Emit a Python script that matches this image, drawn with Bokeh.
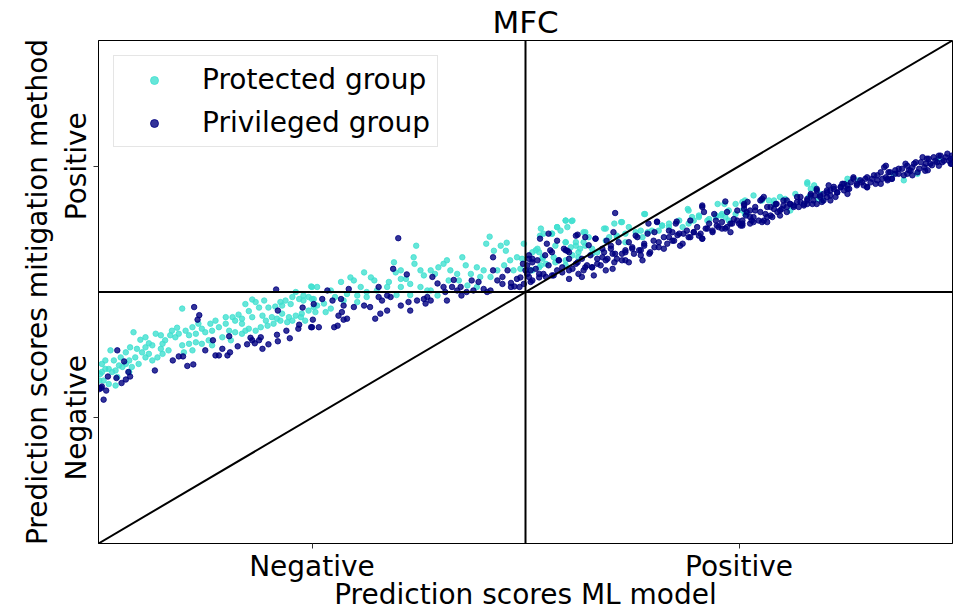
from bokeh.plotting import figure
from bokeh.models import Span, Slope, FixedTicker, Legend, LegendItem
from bokeh.embed import file_html
from bokeh.resources import INLINE

title_text = "MFC"
x_label = "Prediction scores ML model"
y_label = "Prediction scores mitigation method"
tick_values = [0.25, 0.75]
tick_labels = ["Negative", "Positive"]
threshold = 0.5
series_names = ["Protected group", "Privileged group"]

# Protected group (turquoise)
prot_x = [
    0.249, 0.231, 0.246, 0.240, 0.235, 0.227, 0.219, 0.213, 0.207, 0.199,
    0.188, 0.180, 0.176, 0.164, 0.180, 0.192, 0.196, 0.203, 0.209, 0.215,
    0.223, 0.231, 0.238, 0.246, 0.252, 0.242, 0.237, 0.227, 0.221, 0.213,
    0.205, 0.198, 0.190, 0.184, 0.176, 0.172, 0.168, 0.160, 0.153, 0.149,
    0.141, 0.133, 0.125, 0.121, 0.114, 0.106, 0.098, 0.092, 0.090, 0.084,
    0.078, 0.075, 0.067, 0.063, 0.055, 0.051, 0.045, 0.041, 0.037, 0.049,
    0.059, 0.059, 0.055, 0.043, 0.036, 0.032, 0.028, 0.024, 0.020, 0.016,
    0.012, 0.014, 0.008, 0.004, 0.002, 0.006, 0.012, 0.020, 0.001, 0.004,
    0.075, 0.082, 0.098, 0.106, 0.114, 0.121, 0.129, 0.110, 0.100, 0.069,
    0.063, 0.047, 0.039, 0.073, 0.160, 0.168, 0.145, 0.155, 0.133,
    0.172, 0.184, 0.194, 0.215, 0.225, 0.240, 0.252, 0.157, 0.168, 0.149,
    0.137, 0.131, 0.117, 0.110, 0.102, 0.094, 0.086, 0.073, 0.055, 0.032,
    0.026, 0.018, 0.008, 0.022, 0.036,
    0.458, 0.454, 0.471, 0.478, 0.498, 0.463, 0.477, 0.482, 0.490, 0.372,
    0.369, 0.370, 0.346, 0.348, 0.311, 0.319, 0.323, 0.295, 0.299, 0.284,
    0.272, 0.256, 0.250, 0.250, 0.256, 0.264, 0.272, 0.266, 0.254, 0.291,
    0.303, 0.314, 0.326, 0.340, 0.354, 0.354, 0.365, 0.377, 0.381, 0.389,
    0.394, 0.398, 0.404, 0.408, 0.412, 0.420, 0.426, 0.430, 0.436, 0.443,
    0.447, 0.451, 0.459, 0.467, 0.475, 0.486, 0.494, 0.496, 0.443, 0.432,
    0.389, 0.377, 0.365, 0.349, 0.338, 0.307, 0.397, 0.385, 0.410, 0.422,
    0.354, 0.360, 0.303, 0.314, 0.277, 0.287,
    0.517, 0.531, 0.537, 0.547, 0.554, 0.549, 0.570, 0.574, 0.594, 0.612,
    0.639, 0.621, 0.629, 0.637, 0.643, 0.547, 0.559, 0.568, 0.516, 0.512,
    0.520, 0.533, 0.508, 0.516, 0.524, 0.535, 0.547, 0.598, 0.607, 0.617,
    0.656, 0.660, 0.668, 0.684, 0.691, 0.697, 0.703, 0.715, 0.723, 0.730,
    0.734, 0.738, 0.746, 0.754, 0.691, 0.725, 0.578, 0.584, 0.562,
    0.518, 0.521, 0.547, 0.555, 0.541, 0.537, 0.531, 0.514, 0.508, 0.520,
    0.535, 0.547, 0.553, 0.559, 0.564, 0.570, 0.568, 0.562, 0.592, 0.604,
    0.613, 0.607, 0.617, 0.594, 0.578, 0.506, 0.518, 0.547, 0.555,
    0.640, 0.660, 0.668, 0.680, 0.690, 0.695, 0.703, 0.713, 0.723, 0.729,
    0.733, 0.738, 0.746, 0.754, 0.648, 0.635,
    0.757, 0.777, 0.785, 0.798, 0.804, 0.816, 0.830, 0.834, 0.840, 0.848,
    0.845, 0.877, 0.931, 0.984, 0.791,
    0.757, 0.759, 0.767, 0.830, 0.832, 0.838, 0.810, 0.791, 0.843,
    0.877, 0.890, 0.943, 0.959,
]
prot_y = [
    0.511, 0.500, 0.490, 0.483, 0.486, 0.490, 0.483, 0.480, 0.471, 0.469,
    0.469, 0.485, 0.462, 0.455, 0.450, 0.453, 0.443, 0.450, 0.447, 0.457,
    0.450, 0.453, 0.457, 0.463, 0.470, 0.443, 0.450, 0.443, 0.440, 0.443,
    0.437, 0.433, 0.430, 0.423, 0.427, 0.423, 0.417, 0.420, 0.423, 0.437,
    0.430, 0.423, 0.420, 0.427, 0.417, 0.414, 0.467, 0.429, 0.410, 0.414,
    0.404, 0.397, 0.417, 0.394, 0.390, 0.380, 0.387, 0.420, 0.390, 0.405,
    0.398, 0.377, 0.370, 0.370, 0.364, 0.357, 0.351, 0.354, 0.344, 0.341,
    0.347, 0.384, 0.364, 0.357, 0.337, 0.324, 0.317, 0.314, 0.324, 0.341,
    0.377, 0.384, 0.394, 0.397, 0.400, 0.397, 0.404, 0.384, 0.380, 0.370,
    0.364, 0.357, 0.351, 0.387, 0.443, 0.437, 0.410, 0.404, 0.394,
    0.476, 0.480, 0.483, 0.473, 0.476, 0.493, 0.486, 0.450, 0.447, 0.450,
    0.443, 0.437, 0.437, 0.430, 0.423, 0.417, 0.423, 0.414, 0.410, 0.380,
    0.370, 0.364, 0.347, 0.331, 0.341,
    0.610, 0.596, 0.592, 0.598, 0.596, 0.582, 0.582, 0.563, 0.569, 0.592,
    0.569, 0.556, 0.559, 0.539, 0.539, 0.529, 0.523, 0.529, 0.523, 0.520,
    0.503, 0.510, 0.510, 0.486, 0.473, 0.477, 0.467, 0.460, 0.460, 0.496,
    0.493, 0.500, 0.503, 0.520, 0.526, 0.510, 0.516, 0.543, 0.533, 0.543,
    0.536, 0.549, 0.556, 0.563, 0.543, 0.536, 0.569, 0.553, 0.536, 0.549,
    0.530, 0.543, 0.530, 0.543, 0.553, 0.543, 0.546, 0.566, 0.510, 0.513,
    0.503, 0.510, 0.494, 0.494, 0.510, 0.510, 0.493, 0.503, 0.523, 0.523,
    0.543, 0.526, 0.480, 0.490, 0.490, 0.483,
    0.612, 0.616, 0.629, 0.642, 0.641, 0.629, 0.619, 0.609, 0.626, 0.639,
    0.655, 0.629, 0.619, 0.609, 0.619, 0.599, 0.592, 0.599, 0.579, 0.583,
    0.569, 0.569, 0.543, 0.549, 0.556, 0.559, 0.563, 0.609, 0.612, 0.616,
    0.622, 0.632, 0.629, 0.629, 0.636, 0.642, 0.649, 0.645, 0.652, 0.655,
    0.649, 0.642, 0.655, 0.662, 0.662, 0.675, 0.576, 0.579, 0.569,
    0.626, 0.616, 0.642, 0.642, 0.622, 0.629, 0.616, 0.586, 0.579, 0.566,
    0.592, 0.599, 0.589, 0.599, 0.586, 0.592, 0.619, 0.579, 0.626, 0.636,
    0.639, 0.609, 0.599, 0.602, 0.586, 0.543, 0.553, 0.553, 0.573,
    0.655, 0.632, 0.636, 0.642, 0.665, 0.649, 0.652, 0.642, 0.649, 0.652,
    0.675, 0.662, 0.675, 0.679, 0.622, 0.622,
    0.655, 0.682, 0.682, 0.689, 0.685, 0.695, 0.718, 0.705, 0.705, 0.682,
    0.695, 0.725, 0.735, 0.765, 0.675,
    0.682, 0.655, 0.692, 0.715, 0.689, 0.712, 0.662, 0.682, 0.685,
    0.718, 0.722, 0.722, 0.735,
]

# Privileged group (navy)
priv_x = [
    0.208, 0.112, 0.118, 0.116, 0.239, 0.210, 0.251, 0.235, 0.234, 0.249,
    0.220, 0.209, 0.210, 0.224, 0.153, 0.134, 0.178, 0.180, 0.188, 0.190,
    0.199, 0.192, 0.183, 0.174, 0.163, 0.145, 0.125, 0.137, 0.141, 0.151,
    0.154, 0.087, 0.094, 0.099, 0.104, 0.111, 0.066, 0.022, 0.030, 0.035,
    0.037, 0.032, 0.027, 0.021, 0.011, 0.004, 0.003, 0.009, 0.006, 0.001,
    0.351, 0.345, 0.361, 0.328, 0.293, 0.268, 0.262, 0.252, 0.274, 0.284,
    0.287, 0.285, 0.281, 0.291, 0.287, 0.276, 0.280, 0.258, 0.250, 0.299,
    0.311, 0.318, 0.328, 0.332, 0.338, 0.342, 0.330, 0.324, 0.338, 0.354,
    0.363, 0.365, 0.373, 0.381, 0.385, 0.389, 0.383, 0.391, 0.397, 0.404,
    0.406, 0.408, 0.416, 0.420, 0.425, 0.431, 0.439, 0.437, 0.445, 0.451,
    0.455, 0.459, 0.462, 0.462, 0.467, 0.473, 0.479, 0.483, 0.487, 0.490,
    0.494, 0.498, 0.500, 0.497, 0.483, 0.493, 0.473, 0.424, 0.414,
    0.605, 0.603, 0.595, 0.600, 0.561, 0.570, 0.582, 0.525, 0.517, 0.529,
    0.547, 0.551, 0.539, 0.504, 0.508, 0.514, 0.502, 0.506, 0.504, 0.508,
    0.516, 0.524, 0.531, 0.537, 0.543, 0.551, 0.559, 0.566, 0.570, 0.578,
    0.584, 0.590, 0.594, 0.602, 0.607, 0.613, 0.617, 0.625, 0.617, 0.627,
    0.633, 0.639, 0.645, 0.651, 0.656, 0.662, 0.668, 0.674, 0.680, 0.684,
    0.691, 0.697, 0.703, 0.707, 0.713, 0.719, 0.724, 0.730, 0.736, 0.742,
    0.748, 0.752, 0.707, 0.709, 0.734, 0.740, 0.637, 0.621, 0.654, 0.677,
    0.672, 0.651, 0.629, 0.590,
    0.504, 0.508, 0.502, 0.506, 0.512, 0.516, 0.521, 0.527, 0.531, 0.527,
    0.539, 0.545, 0.549, 0.551, 0.555, 0.561, 0.562, 0.568, 0.572, 0.576,
    0.578, 0.582, 0.584, 0.588, 0.592, 0.596, 0.600, 0.604, 0.605, 0.609,
    0.613, 0.617, 0.621, 0.625, 0.559, 0.574, 0.533, 0.543, 0.523, 0.537,
    0.602, 0.594, 0.580, 0.566, 0.551,
    0.631, 0.635, 0.639, 0.643, 0.646, 0.650, 0.654, 0.656, 0.662, 0.666,
    0.668, 0.672, 0.676, 0.678, 0.681, 0.685, 0.689, 0.693, 0.697, 0.701,
    0.705, 0.707, 0.707, 0.711, 0.715, 0.719, 0.723, 0.726, 0.730, 0.734,
    0.736, 0.740, 0.744, 0.748, 0.750, 0.754, 0.756, 0.693, 0.721, 0.635,
    0.644,
    0.754, 0.756, 0.759, 0.763, 0.767, 0.769, 0.775, 0.777, 0.779, 0.783,
    0.787, 0.791, 0.794, 0.798, 0.802, 0.806, 0.810, 0.814, 0.818, 0.822,
    0.826, 0.830, 0.834, 0.837, 0.841, 0.845, 0.849, 0.853, 0.857, 0.861,
    0.865, 0.869, 0.873, 0.877, 0.881, 0.884, 0.888, 0.892, 0.896, 0.900,
    0.904, 0.908, 0.912, 0.916, 0.920, 0.922, 0.925, 0.929, 0.933, 0.937,
    0.941, 0.945, 0.949, 0.953, 0.957, 0.961, 0.965, 0.969, 0.972, 0.976,
    0.980, 0.984, 0.988, 0.992, 0.996, 0.999, 0.998, 0.971, 0.947, 0.924,
    0.900, 0.877, 0.853, 0.830, 0.806, 0.783, 0.763, 0.841, 0.857,
    0.756, 0.760, 0.763, 0.767, 0.773, 0.769, 0.775, 0.779, 0.781, 0.787,
    0.789, 0.793, 0.795, 0.798, 0.802, 0.806, 0.810, 0.814, 0.818, 0.822,
    0.826, 0.830, 0.834, 0.836, 0.841, 0.845, 0.849, 0.853, 0.857, 0.861,
    0.865, 0.869, 0.873, 0.877, 0.847, 0.855, 0.758, 0.765, 0.777, 0.754,
    0.783, 0.800, 0.820, 0.839, 0.863, 0.871,
    0.879, 0.884, 0.888, 0.894, 0.900, 0.906, 0.912, 0.916, 0.922, 0.924,
    0.927, 0.933, 0.937, 0.943, 0.947, 0.951, 0.955, 0.959, 0.963, 0.967,
    0.970, 0.974, 0.978, 0.982, 0.986, 0.990, 0.994, 0.998, 0.999, 0.918,
    0.929, 0.953, 0.968, 0.984, 0.898, 0.910,
]
priv_y = [
    0.505, 0.470, 0.454, 0.445, 0.469, 0.463, 0.445, 0.435, 0.427, 0.430,
    0.423, 0.415, 0.402, 0.408, 0.412, 0.404, 0.409, 0.404, 0.404, 0.410,
    0.396, 0.387, 0.398, 0.396, 0.392, 0.387, 0.384, 0.374, 0.374, 0.374,
    0.380, 0.364, 0.372, 0.372, 0.353, 0.356, 0.344, 0.384, 0.362, 0.341,
    0.332, 0.326, 0.319, 0.329, 0.332, 0.312, 0.309, 0.304, 0.286, 0.307,
    0.607, 0.546, 0.535, 0.510, 0.506, 0.503, 0.486, 0.476, 0.483, 0.486,
    0.473, 0.460, 0.453, 0.447, 0.445, 0.430, 0.433, 0.430, 0.430, 0.470,
    0.473, 0.470, 0.490, 0.483, 0.493, 0.490, 0.457, 0.447, 0.463, 0.473,
    0.480, 0.463, 0.483, 0.486, 0.490, 0.483, 0.477, 0.530, 0.517, 0.510,
    0.500, 0.483, 0.524, 0.503, 0.493, 0.500, 0.503, 0.523, 0.520, 0.506,
    0.500, 0.503, 0.543, 0.569, 0.523, 0.516, 0.543, 0.518, 0.511, 0.526,
    0.529, 0.516, 0.543, 0.556, 0.510, 0.510, 0.530, 0.510, 0.510,
    0.657, 0.619, 0.602, 0.592, 0.614, 0.609, 0.606, 0.596, 0.606, 0.583,
    0.583, 0.579, 0.563, 0.573, 0.566, 0.563, 0.553, 0.543, 0.530, 0.523,
    0.536, 0.530, 0.533, 0.543, 0.549, 0.543, 0.556, 0.566, 0.549, 0.549,
    0.556, 0.569, 0.563, 0.576, 0.566, 0.576, 0.583, 0.589, 0.563, 0.576,
    0.583, 0.592, 0.576, 0.589, 0.599, 0.586, 0.609, 0.602, 0.616, 0.596,
    0.609, 0.619, 0.612, 0.606, 0.626, 0.622, 0.632, 0.626, 0.629, 0.636,
    0.642, 0.632, 0.672, 0.659, 0.680, 0.619, 0.563, 0.599, 0.640, 0.640,
    0.619, 0.619, 0.612, 0.586,
    0.566, 0.559, 0.536, 0.520, 0.546, 0.529, 0.536, 0.553, 0.579, 0.616,
    0.563, 0.586, 0.582, 0.566, 0.546, 0.559, 0.536, 0.543, 0.553, 0.573,
    0.549, 0.606, 0.566, 0.553, 0.579, 0.566, 0.586, 0.559, 0.576, 0.599,
    0.563, 0.579, 0.559, 0.586, 0.612, 0.593, 0.533, 0.539, 0.573, 0.602,
    0.546, 0.543, 0.533, 0.530, 0.526,
    0.609, 0.583, 0.596, 0.616, 0.579, 0.602, 0.639, 0.589, 0.609, 0.596,
    0.622, 0.602, 0.636, 0.613, 0.592, 0.616, 0.622, 0.609, 0.619, 0.629,
    0.616, 0.669, 0.606, 0.626, 0.636, 0.619, 0.642, 0.629, 0.639, 0.626,
    0.659, 0.636, 0.645, 0.662, 0.636, 0.642, 0.665, 0.642, 0.655, 0.573,
    0.636,
    0.632, 0.672, 0.659, 0.649, 0.639, 0.662, 0.659, 0.685, 0.642, 0.669,
    0.652, 0.665, 0.675, 0.662, 0.682, 0.669, 0.675, 0.672, 0.689, 0.679,
    0.672, 0.685, 0.692, 0.682, 0.702, 0.692, 0.682, 0.698, 0.702, 0.709,
    0.698, 0.709, 0.715, 0.705, 0.718, 0.728, 0.715, 0.722, 0.712, 0.728,
    0.718, 0.732, 0.722, 0.738, 0.748, 0.728, 0.738, 0.725, 0.742, 0.735,
    0.745, 0.755, 0.742, 0.748, 0.758, 0.745, 0.768, 0.755, 0.765, 0.752,
    0.761, 0.771, 0.758, 0.768, 0.761, 0.771, 0.755, 0.742, 0.735, 0.722,
    0.709, 0.695, 0.689, 0.675, 0.659, 0.649, 0.636, 0.675, 0.682,
    0.675, 0.679, 0.662, 0.649, 0.642, 0.669, 0.682, 0.689, 0.655, 0.669,
    0.649, 0.675, 0.659, 0.652, 0.672, 0.682, 0.675, 0.669, 0.679, 0.689,
    0.675, 0.682, 0.695, 0.675, 0.705, 0.689, 0.695, 0.702, 0.692, 0.705,
    0.698, 0.708, 0.702, 0.712, 0.679, 0.712, 0.652, 0.642, 0.639, 0.636,
    0.639, 0.665, 0.669, 0.692, 0.689, 0.715,
    0.705, 0.725, 0.712, 0.718, 0.708, 0.725, 0.732, 0.715, 0.751, 0.725,
    0.738, 0.735, 0.745, 0.732, 0.751, 0.741, 0.755, 0.738, 0.758, 0.748,
    0.765, 0.755, 0.768, 0.758, 0.771, 0.761, 0.775, 0.765, 0.755, 0.725,
    0.725, 0.732, 0.741, 0.751, 0.725, 0.715,
]

FONT = "DejaVu Sans"
TEXT_SIZE = "28px"

p = figure(
    width=953, height=613,
    x_range=(0, 1), y_range=(0, 1),
    output_backend="svg", toolbar_location=None,
    min_border_left=98, min_border_right=1,
    min_border_top=40, min_border_bottom=70,
)
p.grid.visible = False
p.outline_line_color = "black"
p.outline_line_width = 1
p.background_fill_color = "white"
p.border_fill_color = "white"

p.title.text = title_text
p.title.align = "center"
p.title.text_font = FONT
p.title.text_font_size = "31px"
p.title.text_font_style = "normal"
p.title.text_color = "black"
p.title.standoff = 1

for ax in (p.xaxis[0], p.yaxis[0]):
    ax.ticker = FixedTicker(ticks=tick_values)
    ax.major_label_overrides = {v: t for v, t in zip(tick_values, tick_labels)}
    ax.major_label_text_font = FONT
    ax.major_label_text_font_size = TEXT_SIZE
    ax.major_label_text_color = "black"
    ax.axis_label_text_font = FONT
    ax.axis_label_text_font_size = TEXT_SIZE
    ax.axis_label_text_font_style = "normal"
    ax.axis_label_text_color = "black"
    ax.major_tick_out = 5
    ax.major_tick_in = 0
    ax.minor_tick_out = 0
    ax.minor_tick_in = 0
    ax.major_tick_line_color = "#333333"
    ax.axis_line_color = "black"

p.xaxis[0].axis_label = x_label
p.xaxis[0].major_label_standoff = 1
p.xaxis[0].axis_label_standoff = -8
p.yaxis[0].axis_label = y_label
p.yaxis[0].major_label_orientation = "vertical"
p.yaxis[0].major_label_standoff = 1
p.yaxis[0].axis_label_standoff = 3

r_prot = p.scatter(prot_x, prot_y, size=5.5, fill_color="turquoise",
                   line_color="turquoise", alpha=0.8)
r_priv = p.scatter(priv_x, priv_y, size=5.5, fill_color="navy",
                   line_color="navy", alpha=0.8)

p.add_layout(Span(location=threshold, dimension="height",
                  line_color="black", line_width=2))
p.add_layout(Span(location=threshold, dimension="width",
                  line_color="black", line_width=2))
p.add_layout(Slope(gradient=1, y_intercept=0, line_color="black", line_width=2))

legend = Legend(
    items=[LegendItem(label=series_names[0], renderers=[r_prot]),
           LegendItem(label=series_names[1], renderers=[r_priv])],
    location="top_left", margin=15, padding=7, spacing=10,
    label_height=30, glyph_height=20, glyph_width=66, label_standoff=15,
    label_text_font=FONT, label_text_font_size=TEXT_SIZE,
    label_text_color="black",
    border_line_color="#cccccc", border_line_width=1,
    background_fill_color="white", background_fill_alpha=0.8,
)
p.add_layout(legend)

open("out.html", "w").write(file_html(p, INLINE, title_text))
